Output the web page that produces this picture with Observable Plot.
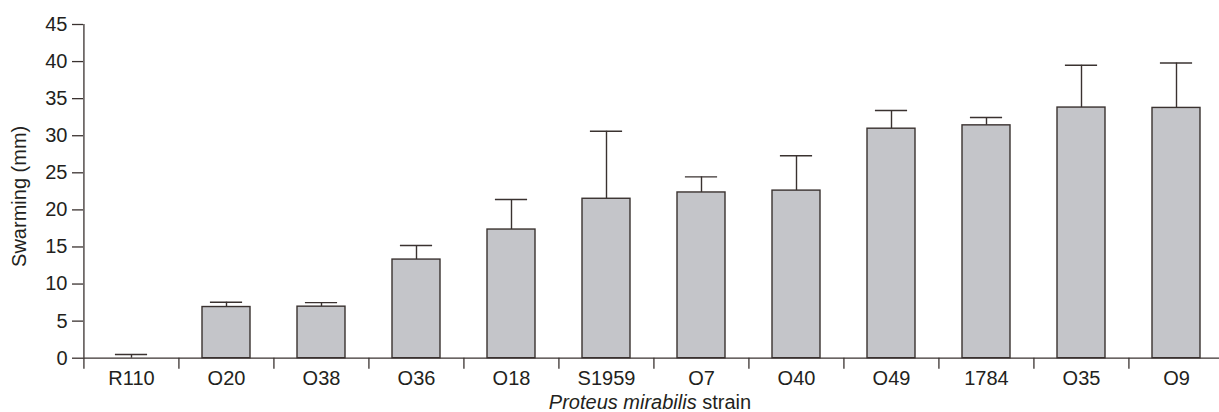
<!DOCTYPE html>
<html>
<head>
<meta charset="utf-8">
<script src="https://cdn.jsdelivr.net/npm/d3@7"></script>
<script src="https://cdn.jsdelivr.net/npm/@observablehq/plot@0.6"></script>
<style>
  html, body { margin: 0; padding: 0; background: #fff; overflow: hidden; }
  #wrap { width: 1219px; font-family: "Liberation Sans", Arial, Helvetica, sans-serif; color: #231f20; }
  #chart svg { display: block; }
  #caption { width: 1300px; text-align: center; font-size: 20px; line-height: 20px; height: 20px; white-space: nowrap; }
</style>
</head>
<body>
<div id="wrap">
  <div id="chart"></div>
  <div id="caption"><i>Proteus mirabilis</i> strain</div>
</div>
<script>
const strains = ["R110", "O20", "O38", "O36", "O18", "S1959", "O7", "O40", "O49", "1784", "O35", "O9"];
const swarming = [0, 6.9, 6.95, 13.3, 17.35, 21.5, 22.35, 22.6, 30.95, 31.4, 33.8, 33.75];
const errors = [0.5, 0.65, 0.55, 1.9, 4.05, 9.1, 2.1, 4.7, 2.45, 1.05, 5.7, 6.05];
const yTicks = [0, 5, 10, 15, 20, 25, 30, 35, 40, 45];
const yLabel = "Swarming (mm)";

const data = strains.map((s, i) => ({strain: s, value: swarming[i], err: errors[i], top: swarming[i] + errors[i]}));

const ink = "#3a3230";
const textInk = "#231f20";
const fs = 20;
const xRange = [83, 1225];
const step = (xRange[1] - xRange[0]) / strains.length;

const chart = Plot.plot({
  width: 1219,
  height: 392,
  marginLeft: 83,
  marginRight: 0,
  marginTop: 24,
  marginBottom: 34.3,
  style: {fontFamily: "'Liberation Sans', Arial, Helvetica, sans-serif", fontSize: fs + "px", color: textInk, background: "#fff"},
  x: {domain: strains, range: xRange, paddingInner: 0.49, paddingOuter: 0.245, align: 0.5},
  y: {domain: [0, 45], ticks: yTicks},
  marks: [
    Plot.ruleX(data, {x: "strain", y1: "value", y2: "top", stroke: ink, strokeWidth: 1.4}),
    Plot.tickY(data, {x: "strain", y: "top", stroke: ink, strokeWidth: 1.4, insetLeft: (step - 15) / 2, insetRight: (step - 15) / 2}),
    Plot.barY(data, {x: "strain", y: "value", fill: "#c4c5c9", stroke: ink, strokeWidth: 1.4}),
    Plot.ruleY([0], {stroke: ink, strokeWidth: 1.3}),
    Plot.ruleX([strains[0]], {x: d => d, dx: -step / 2, y1: 0, y2: 45, stroke: ink, strokeWidth: 1.3}),
    Plot.axisY({ticks: yTicks, tickSize: 11, tickPadding: 5, stroke: ink, strokeWidth: 1.3, fill: textInk, label: null, fontSize: fs}),
    Plot.axisX({ticks: strains, tickSize: 11, text: null, dx: -step / 2, stroke: ink, strokeWidth: 1.3, label: null}),
    Plot.axisX({ticks: strains, tickSize: 0, tickPadding: 13, fill: textInk, label: null, fontSize: fs}),
    Plot.text([yLabel], {frameAnchor: "left", rotate: -90, dx: -64, dy: 5, fill: textInk, fontSize: fs, textAnchor: "middle", lineAnchor: "middle"})
  ]
});
document.getElementById("chart").appendChild(chart);
</script>
</body>
</html>
